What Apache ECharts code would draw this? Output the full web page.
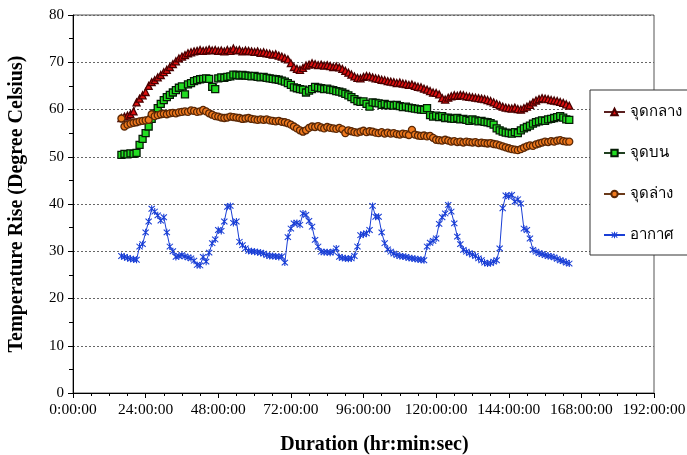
<!DOCTYPE html>
<html>
<head>
<meta charset="utf-8">
<script src="https://cdn.jsdelivr.net/npm/echarts@6/dist/echarts.min.js"></script>
<style>
  html, body { margin: 0; padding: 0; background: #fff; }
  #chart { width: 687px; height: 455px; }
</style>
</head>
<body>
<div id="chart"></div>
<script>
// sampling grid: one reading per hour, 16 h .. 164 h
const hours = [];
for (let h = 16; h <= 164; h++) hours.push(h);

const seriesNames = ['จุดกลาง', 'จุดบน', 'จุดล่าง', 'อากาศ'];

// จุดกลาง (middle point)
const midTemp = [
  58.2, 58.5, 58.7, 59.0, 59.6, 61.5, 62.3, 63.0, 63.7, 65.0,
  65.8, 66.2, 66.8, 67.3, 67.9, 68.4, 69.0, 69.6, 70.2, 70.8,
  71.2, 71.5, 71.9, 72.1, 72.3, 72.4, 72.6, 72.4, 72.5, 72.7,
  72.5, 72.6, 72.4, 72.5, 72.3, 72.6, 72.4, 72.9, 72.5, 72.6,
  72.3, 72.5, 72.4, 72.3, 72.2, 72.3, 72.0, 72.1, 71.9, 71.8,
  71.6, 71.7, 71.4, 71.2, 70.9, 70.6, 69.8, 69.0, 68.6, 68.4,
  68.8, 69.3, 69.5, 69.8, 69.6, 69.4, 69.5, 69.3, 69.4, 69.2,
  69.0, 69.1, 68.9, 68.6, 68.2, 67.8, 67.4, 67.0, 66.7, 66.6,
  66.9, 67.1, 67.0, 66.8, 66.6, 66.5, 66.3, 66.2, 66.0, 65.9,
  65.8, 65.6, 65.7, 65.5, 65.4, 65.2, 65.3, 65.0, 64.8, 64.7,
  64.4, 64.2, 63.9, 63.6, 63.5, 63.2, 62.4, 62.1, 62.5, 62.8,
  63.0, 62.9, 63.1, 63.0, 62.8, 62.7, 62.6, 62.5, 62.4, 62.3,
  62.2, 62.0, 61.8, 61.5, 61.2, 60.9, 60.6, 60.4, 60.3, 60.2,
  60.4, 60.1, 60.0, 60.3, 60.6, 61.0, 61.5, 61.9, 62.2, 62.4,
  62.3, 62.2, 62.0, 61.9, 61.8, 61.6, 61.4, 61.1, 60.8
];

// จุดบน (top point)
const topTemp = [
  50.4, 50.6, 50.5, 50.7, 50.6, 50.8, 52.5, 53.8, 55.0, 56.4,
  58.0, 59.2, 60.3, 61.2, 62.0, 62.6, 63.1, 63.6, 64.1, 64.6,
  64.9, 63.2, 65.3, 65.6, 66.0, 66.2, 66.4, 66.5, 66.6, 66.5,
  64.8, 64.3, 66.6, 66.8, 66.7, 66.9, 67.0, 67.4, 67.3, 67.2,
  67.3, 67.2, 67.1, 67.0, 67.1, 66.9, 66.8, 66.9, 66.7, 66.6,
  66.5, 66.4, 66.3, 66.1, 65.9, 65.6, 65.2, 64.7, 64.5, 64.3,
  64.2, 63.6, 64.0, 64.3, 64.8, 64.6, 64.5, 64.3, 64.4, 64.2,
  64.1, 63.9, 63.8, 63.6, 63.3, 63.0, 62.6, 62.2, 61.8, 61.6,
  61.7, 61.2, 60.6, 61.5, 61.4, 61.3, 61.0, 61.2, 60.9, 61.0,
  60.8, 61.0, 60.7, 60.5, 60.6, 60.4, 60.3, 60.2, 60.1, 60.0,
  59.9, 60.3, 58.8, 58.5, 58.7, 58.4, 58.6, 58.2, 58.3, 58.1,
  58.0, 58.2, 57.9, 58.0, 57.8, 57.6, 57.9, 57.7, 57.5, 57.6,
  57.4, 57.3, 57.1, 56.8, 56.0, 55.6, 55.3, 55.1, 55.0, 54.9,
  55.2, 55.0, 55.6, 56.0, 56.3, 56.6, 57.0, 57.3, 57.5, 57.7,
  57.6, 57.9, 58.0, 58.2, 58.4, 58.6, 58.3, 57.9, 57.8
];

// จุดล่าง (bottom point)
const bottomTemp = [
  58.1, 56.4, 56.8, 57.0, 57.2, 57.3, 57.5, 57.6, 57.7, 57.8,
  59.0, 58.6, 58.8, 59.0, 59.1, 59.0, 59.2, 59.3, 59.2, 59.4,
  59.5, 59.6, 59.5, 59.8, 59.7, 59.5, 59.6, 59.9, 59.6, 59.2,
  58.9, 58.6, 58.5, 58.3, 58.2, 58.3, 58.5, 58.4, 58.3, 58.2,
  58.0, 58.1, 58.2, 58.0, 57.9, 57.8, 57.9, 57.8, 57.9, 57.7,
  57.6, 57.5, 57.6, 57.4, 57.3, 57.1, 56.8, 56.4, 56.0, 55.6,
  55.3, 55.6, 56.1, 56.4, 56.3, 56.5, 56.2, 56.0, 56.3, 56.1,
  56.0, 55.9, 56.1, 55.8, 55.0, 55.6, 55.4, 55.2, 55.1, 55.3,
  55.5, 55.2, 55.4, 55.3, 55.1, 55.0, 55.2, 54.9, 55.1, 54.9,
  55.0, 54.8, 54.7, 54.9, 54.8, 54.6, 55.7, 54.7, 54.5, 54.4,
  54.5, 54.3, 54.4, 54.0, 53.6, 53.5, 53.4, 53.6, 53.4, 53.2,
  53.3, 53.1, 53.2, 53.0, 53.2, 53.1, 53.0, 53.1, 52.9, 53.0,
  52.9, 52.8, 52.9, 52.7, 52.6, 52.4, 52.2, 52.0, 51.8, 51.6,
  51.5, 51.4, 51.6, 51.9, 52.2, 52.4, 52.3, 52.6, 52.8, 53.0,
  53.2, 53.1, 53.3, 53.2, 53.4, 53.5, 53.3, 53.2, 53.2
];

// อากาศ (ambient air)
const airTemp = [
  29.0, 28.8, 28.6, 28.4, 28.3, 28.2, 31.0, 31.5, 34.0, 36.3,
  39.0, 38.4, 37.6, 36.5, 37.2, 34.0, 31.0, 30.0, 28.8, 29.0,
  29.2, 28.9, 28.7, 28.5, 28.0, 27.1, 27.0, 28.8, 27.8, 29.7,
  31.7, 32.5, 34.5, 34.3, 36.3, 39.4, 39.6, 36.0, 36.3, 32.0,
  31.3, 30.6, 30.1, 30.0, 29.9, 29.8, 29.7, 29.5, 29.2, 29.0,
  29.0, 28.9, 28.8, 28.9, 27.6, 33.0, 34.8, 35.9, 36.0, 35.6,
  38.0, 37.7, 36.4, 35.2, 32.4, 31.0, 29.9, 29.8, 29.8, 29.7,
  29.9, 30.6, 28.8, 28.6, 28.5, 28.4, 28.5, 29.0, 31.0, 33.4,
  33.6, 33.8, 34.5, 39.6, 37.3, 37.3, 34.0, 31.7, 30.4, 29.9,
  29.5, 29.2, 29.0, 28.9, 28.8, 28.6, 28.5, 28.4, 28.3, 28.2,
  28.1, 31.0, 31.8, 32.2, 32.7, 35.8, 37.2, 38.0, 39.8, 38.4,
  35.9, 33.1, 31.5, 30.3, 29.9, 29.6, 29.3, 29.0, 28.5, 28.1,
  27.6, 27.4, 27.5, 27.8, 28.1, 30.6, 39.1, 41.8, 41.6, 41.9,
  40.5, 41.0, 40.1, 34.8, 34.5, 32.7, 30.3, 29.9, 29.6, 29.4,
  29.2, 29.0, 28.9, 28.7, 28.4, 28.1, 27.9, 27.6, 27.4
];

const pair = vals => hours.map((h, i) => [h, vals[i]]);
const asterisk = 'path://M4.3,0H5.7V10H4.3Z M0.5,1.5L1.5,0.5L9.5,8.5L8.5,9.5Z M8.5,0.5L9.5,1.5L1.5,9.5L0.5,8.5Z';
const serif = '"Liberation Serif", "Times New Roman", serif';

const chart = echarts.init(document.getElementById('chart'));
chart.setOption({
  animation: false,
  backgroundColor: '#fff',
  grid: {
    left: 73, right: 33, top: 15, bottom: 62,
    outerBoundsMode: 'none', containLabel: false,
    show: true, borderColor: '#555', borderWidth: 1
  },
  legend: {
    orient: 'vertical',
    left: 590, top: 90,
    padding: [12, 14, 10, 13],
    itemGap: 21,
    itemWidth: 21, itemHeight: 8,
    backgroundColor: '#fff',
    borderColor: '#333', borderWidth: 1,
    textStyle: { fontFamily: serif, fontSize: 15, color: '#000', lineHeight: 20 },
    data: seriesNames
  },
  xAxis: {
    type: 'value',
    min: 0, max: 192, interval: 24,
    name: 'Duration (hr:min:sec)',
    nameLocation: 'middle', nameGap: 42,
    nameTextStyle: { fontFamily: serif, fontSize: 20, fontWeight: 'bold', color: '#000', padding: [0, 0, 0, 22] },
    axisLine: { lineStyle: { color: '#000', width: 1 } },
    axisTick: { length: 5, lineStyle: { color: '#000' } },
    minorTick: { show: true, splitNumber: 4, length: 3, lineStyle: { color: '#000' } },
    axisLabel: { fontFamily: serif, fontSize: 15.5, color: '#000', margin: 9, formatter: v => v + ':00:00' },
    splitLine: { show: false }
  },
  yAxis: {
    type: 'value',
    min: 0, max: 80, interval: 10,
    name: 'Temperature Rise (Degree Celsius)',
    nameLocation: 'middle', nameGap: 46,
    nameTextStyle: { fontFamily: serif, fontSize: 20, fontWeight: 'bold', color: '#000' },
    axisLine: { lineStyle: { color: '#000', width: 1 } },
    axisTick: { length: 5, lineStyle: { color: '#000' } },
    minorTick: { show: true, splitNumber: 2, length: 4, lineStyle: { color: '#000' } },
    axisLabel: { fontFamily: serif, fontSize: 15, color: '#000', margin: 9 },
    splitLine: { lineStyle: { color: '#666', type: [2, 2], width: 1 } }
  },
  series: [
    {
      name: seriesNames[0], type: 'line', data: pair(midTemp),
      symbol: 'triangle', symbolSize: 7,
      itemStyle: { color: '#e01010', borderColor: '#4a0000', borderWidth: 1.3 },
      lineStyle: { color: '#5a2020', width: 1 }
    },
    {
      name: seriesNames[1], type: 'line', data: pair(topTemp),
      symbol: 'rect', symbolSize: 7,
      itemStyle: { color: '#22dd22', borderColor: '#061c06', borderWidth: 1.3 },
      lineStyle: { color: '#204020', width: 1 }
    },
    {
      name: seriesNames[2], type: 'line', data: pair(bottomTemp),
      symbol: 'circle', symbolSize: 7,
      itemStyle: { color: '#f07a1e', borderColor: '#5a2806', borderWidth: 1.3 },
      lineStyle: { color: '#6a3a1a', width: 1 }
    },
    {
      name: seriesNames[3], type: 'line', data: pair(airTemp),
      symbol: asterisk, symbolSize: 7,
      itemStyle: { color: '#1a3fd6', borderWidth: 0 },
      lineStyle: { color: '#1a3fd6', width: 1 }
    }
  ]
});
</script>
</body>
</html>
